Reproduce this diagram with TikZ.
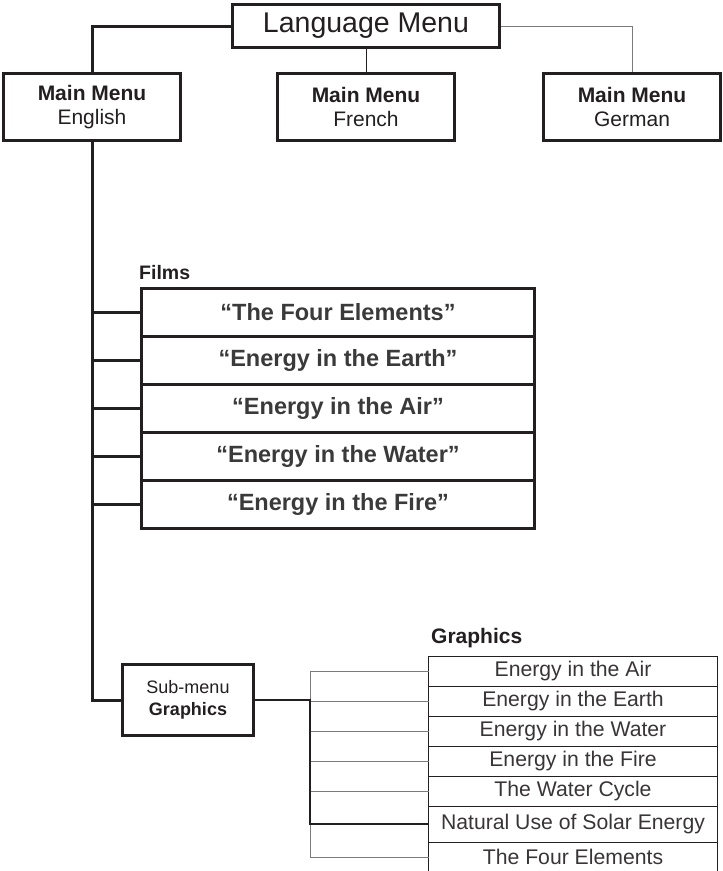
\documentclass[tikz,border=0pt]{standalone}
\usepackage{fontspec}
\setmainfont{Liberation Sans}
\usetikzlibrary{positioning}
\definecolor{ink}{HTML}{231F20}
\definecolor{filmink}{HTML}{3A3A3A}
\definecolor{linkgray}{HTML}{7A7A7A}

\begin{document}
\begin{tikzpicture}[x=1pt,y=-1pt,
    menu box/.style={draw=ink,line width=3pt,align=center,inner sep=0pt,text=ink,
                     minimum width=177pt,minimum height=67pt,font=\fontsize{21}{24}\selectfont},
    film/.style={draw=ink,line width=3pt,outer sep=0pt,inner sep=0pt,text=filmink,
                 minimum width=393pt,minimum height=48pt,font=\fontsize{23.5}{27}\selectfont\bfseries},
    item/.style={draw=ink,line width=1pt,outer sep=0pt,inner sep=0pt,text=ink!90,
                 minimum width=289pt,minimum height=30pt,font=\fontsize{21.2}{25}\selectfont},
    heading/.style={anchor=west,inner sep=0pt,text=ink,font=\bfseries},
    trunk/.style={draw=ink,line width=3pt},
    twig/.style={draw=linkgray,line width=1pt}]

  \useasboundingbox (0,0) rectangle (723,871);

  % top level
  \node[menu box,minimum width=267pt,minimum height=43pt,font=\fontsize{28.5}{32}\selectfont] (lang) at (366,26) {Language Menu};
  \node[menu box] (en) at (92,107) {\textbf{Main Menu}\\English};
  \node[menu box] (fr) at (366,107) {\textbf{Main Menu}\\French};
  \node[menu box] (de) at (632,107) {\textbf{Main Menu}\\German};

  \draw[trunk] (lang.west) -| (en.north);
  \draw[twig,draw=ink] (lang.south) -- (fr.north);
  \draw[twig] (lang.east) -| (de.north);

  % films
  \node[heading,font=\fontsize{19.5}{22}\selectfont\bfseries] (filmshead) at (139,273) {Films};
  \node[film] (f1) at (338,312) {``The Four Elements''};
  \node[film] (f2) [below=0pt of f1] {``Energy in the Earth''};
  \node[film] (f3) [below=0pt of f2] {``Energy in the Air''};
  \node[film] (f4) [below=0pt of f3] {``Energy in the Water''};
  \node[film] (f5) [below=0pt of f4] {``Energy in the Fire''};

  % sub-menu
  \node[menu box,minimum width=131pt,minimum height=71pt,font=\fontsize{18}{22}\selectfont] (sub) at (188,700) {Sub-menu\\\textbf{Graphics}};

  \draw[trunk] (en.south) |- (sub.west);
  \draw[trunk] (en.south |- f1.west) -- (f1.west);
  \draw[trunk] (en.south |- f2.west) -- (f2.west);
  \draw[trunk] (en.south |- f3.west) -- (f3.west);
  \draw[trunk] (en.south |- f4.west) -- (f4.west);
  \draw[trunk] (en.south |- f5.west) -- (f5.west);

  % graphics list
  \node[heading,font=\fontsize{21}{24}\selectfont\bfseries] (gfxhead) at (431,638) {Graphics};
  \node[item] (g1) at (573,671) {Energy in the Air};
  \node[item] (g2) [below=0pt of g1] {Energy in the Earth};
  \node[item] (g3) [below=0pt of g2] {Energy in the Water};
  \node[item] (g4) [below=0pt of g3] {Energy in the Fire};
  \node[item] (g5) [below=0pt of g4] {The Water Cycle};
  \node[item,minimum height=36pt] (g6) [below=0pt of g5] {Natural Use of Solar Energy};
  \node[item] (g7) [below=0pt of g6] {The Four Elements};

  \coordinate (hub) at (310,700);
  \draw[twig] (hub |- g1.west) -- (hub |- g7.west);
  \draw[twig] (hub |- g1.west) -- (g1.west);
  \draw[twig] (hub |- g2.west) -- (g2.west);
  \draw[twig] (hub |- g3.west) -- (g3.west);
  \draw[twig] (hub |- g4.west) -- (g4.west);
  \draw[twig] (hub |- g5.west) -- (g5.west);
  \draw[twig] (hub |- g7.west) -- (g7.west);
  \draw[draw=ink,line width=1.6pt] (sub.east) -| (hub |- g6.west) -- (g6.west);
\end{tikzpicture}
\end{document}
